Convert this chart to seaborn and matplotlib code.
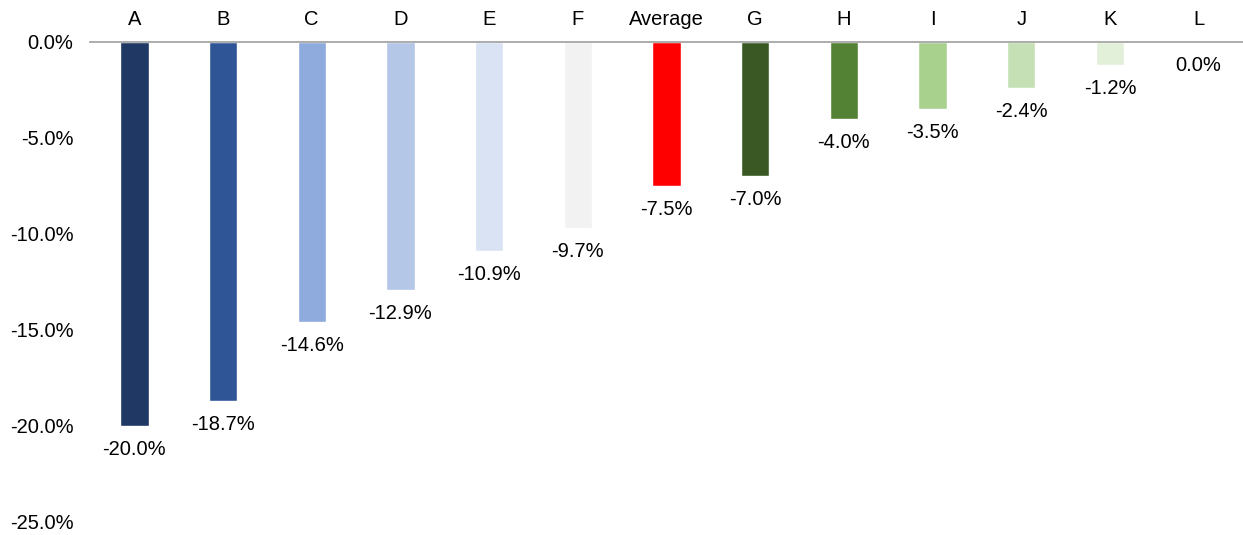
import matplotlib
matplotlib.use("Agg")
import matplotlib.pyplot as plt
from matplotlib.ticker import FuncFormatter
import seaborn as sns
import pandas as pd

categories = ["A", "B", "C", "D", "E", "F", "Average", "G", "H", "I", "J", "K", "L"]
values = [-20.0, -18.7, -14.6, -12.9, -10.9, -9.7, -7.5, -7.0, -4.0, -3.5, -2.4, -1.2, 0.0]
colors = ["#203864", "#2F5597", "#8FAADC", "#B4C7E7", "#DAE3F3", "#F2F2F2", "#FF0000",
          "#3A5824", "#548235", "#A9D18E", "#C5E0B4", "#E2F0D9", "#E2F0D9"]

sns.set_theme(style="white")
plt.rcParams["font.family"] = ["Liberation Sans", "DejaVu Sans"]

df = pd.DataFrame({"category": categories, "value": values})

fig = plt.figure(figsize=(12.43, 5.35), dpi=100)
ax = fig.add_axes([0.0724, 0.0243, 0.9276, 0.8972])

sns.barplot(data=df, x="category", y="value", hue="category", palette=colors,
            width=0.32, legend=False, ax=ax, saturation=1)

fs = 14.5
ax.set_ylim(-25, 0)
ax.set_xlim(-0.5, len(categories) - 0.5)
ax.set_yticks([0, -5, -10, -15, -20, -25])
ax.yaxis.set_major_formatter(FuncFormatter(lambda v, _: f"{v:.1f}%"))
ax.tick_params(axis="y", length=0, pad=12, labelsize=fs, labelcolor="black")
ax.xaxis.tick_top()
ax.tick_params(axis="x", length=0, pad=9.5, labelsize=fs, labelcolor="black")
ax.set_xlabel("")
ax.set_ylabel("")

for side in ["left", "right", "bottom"]:
    ax.spines[side].set_visible(False)
ax.spines["top"].set_color("#A6A6A6")
ax.spines["top"].set_linewidth(1.3)

for i, v in enumerate(values):
    ax.annotate(f"{v:.1f}%", xy=(i, v), xytext=(0, -10), textcoords="offset points",
                ha="center", va="top", fontsize=fs, color="black", annotation_clip=False)

fig.savefig("out.png", dpi=100)
